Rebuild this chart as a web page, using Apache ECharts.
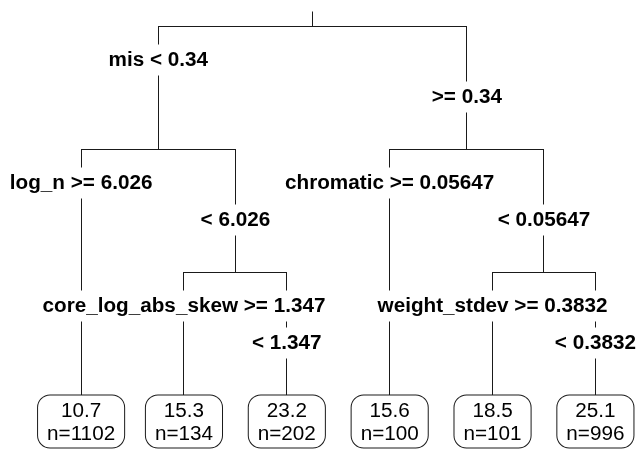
<!DOCTYPE html>
<html><head><meta charset="utf-8">
<script src="https://cdn.jsdelivr.net/npm/echarts@6/dist/echarts.min.js"></script>
<style>html,body{margin:0;padding:0;background:#fff}#c{width:642px;height:449px}</style>
</head><body><div id="c"></div>
<script>
// rpart-style node numbering: children of node k are 2k (left) and 2k+1 (right)
const splitNodes = [1, 2, 5, 3, 7];
const splitLeftLabels = ['mis < 0.34', 'log_n >= 6.026', 'core_log_abs_skew >= 1.347', 'chromatic >= 0.05647', 'weight_stdev >= 0.3832'];
const splitRightLabels = ['>= 0.34', '< 6.026', '< 1.347', '< 0.05647', '< 0.3832'];
const leafNodes = [4, 10, 11, 6, 14, 15];
const leafMeans = ['10.7', '15.3', '23.2', '15.6', '18.5', '25.1'];
const leafCounts = [1102, 134, 202, 100, 101, 996];

const maxDepth = 3;
const pos = {};
leafNodes.forEach((id, i) => { pos[id] = { x: i + 1, y: maxDepth }; });
function depthOf(id) { return Math.floor(Math.log2(id)); }
function place(id) {
  if (pos[id]) return pos[id];
  const l = place(2 * id), r = place(2 * id + 1);
  pos[id] = { x: (l.x + r.x) / 2, y: depthOf(id) };
  return pos[id];
}
place(1);

const edges = [];
const edgeKind = [];
edges.push([pos[1].x, pos[1].y, pos[1].x, pos[1].y]); edgeKind.push('stem');
const labelData = [], labelText = [], labelSide = [];
splitNodes.forEach((id, i) => {
  const p = pos[id], l = pos[2 * id], r = pos[2 * id + 1];
  edges.push([l.x, p.y, r.x, p.y]); edgeKind.push('h');
  edges.push([l.x, p.y, l.x, l.y]); edgeKind.push('v');
  edges.push([r.x, p.y, r.x, r.y]); edgeKind.push('v');
  labelData.push([l.x, p.y]); labelText.push(splitLeftLabels[i]); labelSide.push(0);
  labelData.push([r.x, p.y]); labelText.push(splitRightLabels[i]); labelSide.push(1);
});
const leafData = leafNodes.map(id => [pos[id].x, pos[id].y]);

const FONT = '"Liberation Sans", Arial, Helvetica, sans-serif';
const FS = 20.7;
const crisp = v => Math.round(v - 0.5) + 0.5;

const chart = echarts.init(document.getElementById('c'), null, { renderer: 'canvas' });
chart.setOption({
  backgroundColor: '#ffffff',
  animation: false,
  grid: { left: 81.1, width: 514.3, top: 26, height: 369 },
  xAxis: { type: 'value', min: 1, max: 6, show: false },
  yAxis: { type: 'value', min: 0, max: maxDepth, inverse: true, show: false },
  series: [
    {
      type: 'custom', coordinateSystem: 'cartesian2d', z: 1, silent: true,
      encode: { x: [0, 2], y: [1, 3] },
      data: edges,
      renderItem: function (params, api) {
        const p1 = api.coord([api.value(0), api.value(1)]);
        const p2 = api.coord([api.value(2), api.value(3)]);
        const kind = edgeKind[params.dataIndex];
        let x1 = crisp(p1[0]), y1 = crisp(p1[1]), x2 = crisp(p2[0]), y2 = crisp(p2[1]);
        if (kind === 'stem') { y1 = y2 - 15; }
        if (kind === 'h') { x1 -= 0.5; x2 += 0.5; }
        return { type: 'line', shape: { x1: x1, y1: y1, x2: x2, y2: y2 },
          style: { stroke: '#1a1a1a', lineWidth: 1 } };
      }
    },
    {
      type: 'custom', coordinateSystem: 'cartesian2d', z: 2, silent: true,
      data: labelData,
      renderItem: function (params, api) {
        const p = api.coord([api.value(0), api.value(1)]);
        const off = labelSide[params.dataIndex] ? 71 : 34;
        return { type: 'text', style: {
          text: labelText[params.dataIndex], x: p[0], y: p[1] + off,
          align: 'center', verticalAlign: 'middle',
          font: 'bold ' + FS + 'px ' + FONT, fill: '#000',
          lineHeight: 17, backgroundColor: '#fff', padding: [7, 2]
        } };
      }
    },
    {
      type: 'custom', coordinateSystem: 'cartesian2d', z: 3, silent: true,
      data: leafData,
      renderItem: function (params, api) {
        const p = api.coord([api.value(0), api.value(1)]);
        const i = params.dataIndex;
        return { type: 'text', style: {
          text: leafMeans[i] + '\nn=' + leafCounts[i], x: p[0], y: Math.round(p[1]) + 0.5,
          align: 'center', verticalAlign: 'top',
          font: 'normal ' + FS + 'px ' + FONT, fill: '#000',
          lineHeight: 23.5, backgroundColor: '#fff', padding: [4, 9, 1, 9],
          borderColor: '#1a1a1a', borderWidth: 1, borderRadius: 12
        } };
      }
    }
  ]
});
</script></body></html>
